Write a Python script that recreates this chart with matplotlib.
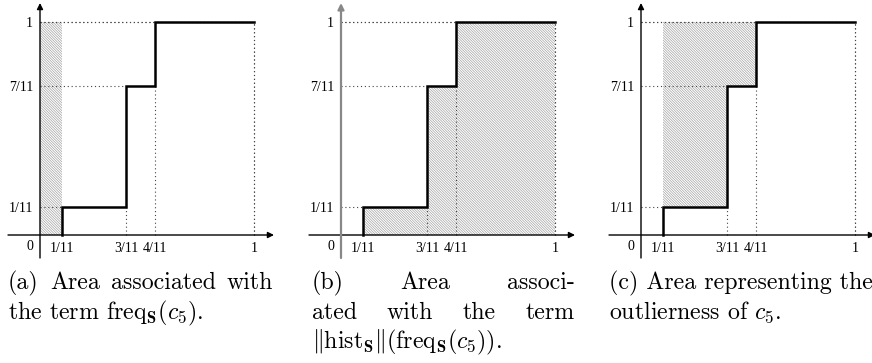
import numpy as np
import matplotlib
matplotlib.use("Agg")
import matplotlib.pyplot as plt

plt.rcParams['mathtext.fontset'] = 'cm'
plt.rcParams['hatch.linewidth'] = 0.5

# cumulative frequency steps of the histogram
edges = [1/11, 3/11, 4/11, 1]
heights = [1/11, 7/11, 1]
xtick_vals = [1/11, 3/11, 4/11, 1]
xtick_labels = ['1/11', '3/11', '4/11', '1']
ytick_vals = [1/11, 7/11, 1]
ytick_labels = ['1/11', '7/11', '1']

captions = [
    [['(a)', 'Area', 'associated', 'with'],
     ['the term $\\mathrm{freq}_\\mathbf{S}(c_5)$.']],
    [['(b)', 'Area', 'associ-'],
     ['ated', 'with', 'the', 'term'],
     ['$\\|\\mathrm{hist}_\\mathbf{S}\\|(\\mathrm{freq}_\\mathbf{S}(c_5))$.']],
    [['(c) Area representing the'],
     ['outlierness of $c_5$.']],
]
justified = [[True, False], [True, True, False], [False, False]]

# the schematic is not drawn to scale: pixel offsets of the breakpoints
x_break = [-1, 0, 1/11, 3/11, 4/11, 1, 2]
x_px = [-214, 0, 22, 86, 115, 214, 428]
y_break = [-1, 0, 1/11, 7/11, 1, 2]
y_px = [-213, 0, 28, 149, 213, 426]

W, H = 872, 363
yaxis_px = [40, 341, 641]
xaxis_px = 235
cap_left = [8, 312, 609]
cap_right = [273, 575, 900]
baselines = [289, 319, 348]

HATCH = '\\' * 13
HCOL = '#a3a3a3'
TICK_FONT = dict(fontfamily='Liberation Serif', fontsize=10)


def fx(x):
    return np.interp(x, x_break, x_px)


def ix(p):
    return np.interp(p, x_px, x_break)


def fy(y):
    return np.interp(y, y_break, y_px)


def iy(p):
    return np.interp(p, y_px, y_break)


fig = plt.figure(figsize=(W / 100, H / 100), dpi=100)

xs = np.repeat(edges, 2)[:-1]
ys = np.concatenate([[0], np.repeat(heights, 2)])
step_y = heights + [heights[-1]]

for k, yx in enumerate(yaxis_px):
    left, right = yx - 32, yx + 236
    top, bottom = 2, 260
    ax = fig.add_axes([left / W, (H - bottom) / H, (right - left) / W, (bottom - top) / H])
    ax.set_xscale('function', functions=(fx, ix))
    ax.set_yscale('function', functions=(fy, iy))
    ax.set_xlim(ix(-32), ix(236))
    ax.set_ylim(iy(xaxis_px - bottom), iy(xaxis_px - top))

    # hatched areas
    if k == 0:
        ax.fill_between([0, edges[0]], 0, 1, facecolor='none', edgecolor=HCOL,
                        hatch=HATCH, linewidth=0)
    elif k == 1:
        ax.fill_between(edges, 0, step_y, step='post', facecolor='none',
                        edgecolor=HCOL, hatch=HATCH, linewidth=0)
    else:
        ax.fill_between(edges[:3], step_y[:3], 1, step='post', facecolor='none',
                        edgecolor=HCOL, hatch=HATCH, linewidth=0)

    # dotted guide lines
    dot = dict(color='#444', lw=0.8, linestyle=(0, (1, 2.5)))
    for e, h in zip(edges, heights):
        ax.plot([0, e], [h, h], **dot)
    ax.plot([edges[-1], edges[-1]], [0, heights[-1]], **dot)
    ax.plot([0, edges[-1]], [1, 1], **dot)
    for e, h in zip(edges[1:], heights):
        ax.plot([e, e], [0, h], **dot)

    # axes with arrows
    arrow = dict(arrowstyle='-|>', lw=1.0, color='k', mutation_scale=9,
                 shrinkA=0, shrinkB=0)
    ax.annotate('', xy=(ix(234), 0), xytext=(ix(-32), 0), arrowprops=arrow)
    ycol = '#888888' if k == 1 else 'k'
    ylw = 1.6 if k == 1 else 1.0
    ax.annotate('', xy=(0, iy(232)), xytext=(0, iy(-23)),
                arrowprops=dict(arrow, color=ycol, lw=ylw))

    ax.plot(xs, ys, color='k', lw=1.8, solid_joinstyle='miter')

    for s in ax.spines.values():
        s.set_color('none')
    ax.spines['bottom'].set_position('zero')
    ax.spines['left'].set_position('zero')
    ax.set_xticks(xtick_vals, xtick_labels, **TICK_FONT)
    ax.set_yticks(ytick_vals, ytick_labels, **TICK_FONT)
    ax.minorticks_off()
    ax.tick_params(length=0, pad=5)
    ax.annotate('0', xy=(0, 0), xytext=(-10, -12), textcoords='offset pixels',
                ha='center', va='center', **TICK_FONT)
    ax.patch.set_alpha(0)

# captions, LaTeX-like justified lines
renderer = fig.canvas.get_renderer()
cap_font = dict(fontfamily='cmr10', fontsize=17.2, va='baseline')
for k in range(3):
    for j, words in enumerate(captions[k]):
        yb = 1 - baselines[j] / H
        if not justified[k][j] or len(words) == 1:
            fig.text(cap_left[k] / W, yb, ' '.join(words), ha='left', **cap_font)
            continue
        widths = []
        for w in words:
            t = fig.text(0, 0, w, **cap_font)
            widths.append(t.get_window_extent(renderer).width)
            t.remove()
        gap = (cap_right[k] - cap_left[k] - sum(widths)) / (len(words) - 1)
        x = cap_left[k]
        for w, wd in zip(words, widths):
            fig.text(x / W, yb, w, ha='left', **cap_font)
            x += wd + gap

fig.savefig('out.png', dpi=100)
